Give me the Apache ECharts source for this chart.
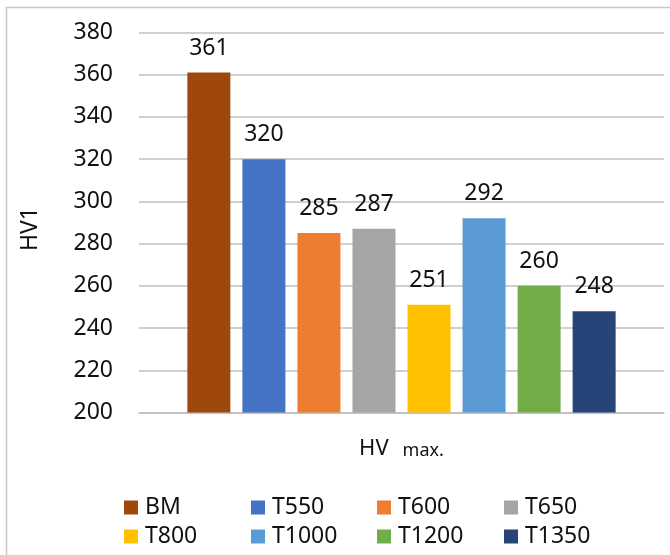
<!DOCTYPE html>
<html>
<head>
<meta charset="utf-8">
<script src="https://cdn.jsdelivr.net/npm/echarts@6/dist/echarts.min.js"></script>
<style>
  html, body { margin: 0; padding: 0; background: #ffffff; }
  #chart { width: 670px; height: 555px; }
</style>
</head>
<body>
<div id="chart"></div>
<script>
// Maximum hardness (HV) per sample condition
const categories = ['HV max.'];
const seriesNames = ['BM', 'T550', 'T600', 'T650', 'T800', 'T1000', 'T1200', 'T1350'];
const seriesValues = [361, 320, 285, 287, 251, 292, 260, 248];
const seriesColors = ['#9E480E', '#4472C4', '#ED7D31', '#A5A5A5', '#FFC000', '#5B9BD5', '#70AD47', '#264478'];
const yTicks = { min: 200, max: 380, interval: 20 };
const yTitle = 'HV1';

const FONT = 'Noto Sans';
const TEXT = '#111111';
const chart = echarts.init(document.getElementById('chart'), null, { renderer: 'canvas' });

const series = seriesNames.map((name, i) => ({
  name: name,
  type: 'bar',
  data: [seriesValues[i]],
  barWidth: 43,
  barGap: '28%',
  itemStyle: { color: seriesColors[i] },
  label: {
    show: true,
    position: 'top',
    distance: 13,
    fontFamily: FONT,
    fontSize: 23,
    color: TEXT
  }
}));

// Legend laid out as a 4-column grid, one legend block per entry
const legendCols = [124, 251, 377, 504];
const legendRows = [496, 525];
const legends = seriesNames.map((name, i) => ({
  left: legendCols[i % 4],
  top: legendRows[Math.floor(i / 4)],
  padding: 0,
  data: [name],
  itemWidth: 14,
  itemHeight: 14,
  itemGap: 0,
  icon: 'rect',
  textStyle: { fontFamily: FONT, fontSize: 23, color: TEXT, padding: [0, 0, 0, 2] }
}));

chart.setOption({
  animation: false,
  backgroundColor: '#ffffff',
  grid: { left: 139, right: 6, top: 32.5, bottom: 142.5, containLabel: false },
  xAxis: {
    type: 'category',
    data: categories,
    axisLine: { show: true, lineStyle: { color: '#bfbfbf', width: 1.5 } },
    axisTick: { show: false },
    axisLabel: {
      margin: 25,
      formatter: function (v) {
        const parts = v.split(' ');
        return '{a|' + parts[0] + '}{b|' + parts.slice(1).join(' ') + '}';
      },
      rich: {
        a: { fontFamily: FONT, fontSize: 22, color: TEXT, padding: [0, 14, 0, 0], verticalAlign: 'bottom' },
        b: { fontFamily: FONT, fontSize: 18, color: TEXT, verticalAlign: 'bottom' }
      }
    }
  },
  yAxis: {
    type: 'value',
    min: yTicks.min,
    max: yTicks.max,
    interval: yTicks.interval,
    axisLine: { show: false },
    axisTick: { show: false },
    splitLine: { lineStyle: { color: '#bfbfbf', width: 1.5 } },
    axisLabel: { margin: 26, fontFamily: FONT, fontSize: 23, color: TEXT }
  },
  legend: legends,
  graphic: [
    {
      type: 'rect',
      z: -1,
      shape: { x: 6.5, y: 7.5, width: 700, height: 600 },
      style: { fill: 'none', stroke: '#c8c8c8', lineWidth: 1.5 }
    },
    {
      type: 'text',
      x: 30,
      y: 229,
      rotation: Math.PI / 2,
      style: {
        text: yTitle,
        fontFamily: FONT,
        fontSize: 23,
        fill: TEXT,
        align: 'center',
        verticalAlign: 'middle'
      }
    }
  ],
  series: series
});
</script>
</body>
</html>
